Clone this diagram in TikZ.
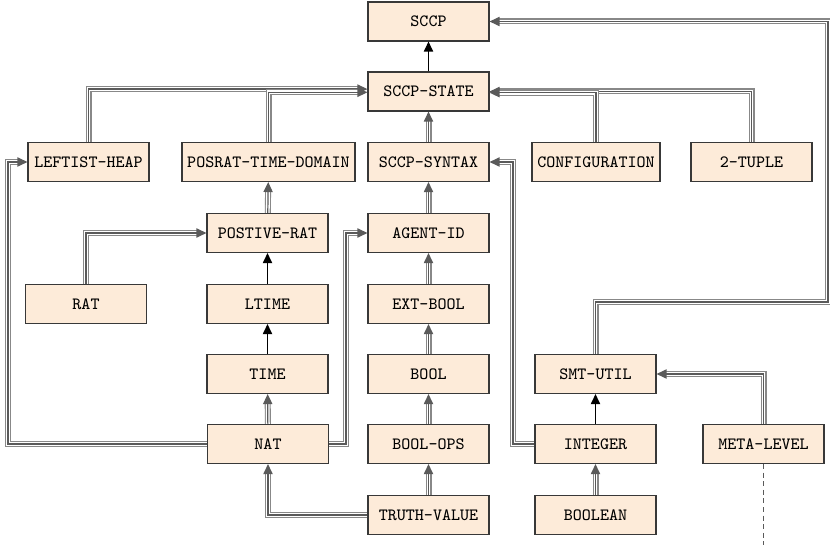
\documentclass[tikz,border=0pt]{standalone}
\usetikzlibrary{arrows.meta}
\definecolor{boxfill}{HTML}{FDEBD9}
\definecolor{boxline}{HTML}{383838}
\definecolor{outerline}{HTML}{888888}
\definecolor{tipgray}{HTML}{5A5A5A}
\begin{document}
\begin{tikzpicture}[x=0.5pt,y=-0.5pt,
  mod/.style={draw=boxline, fill=boxfill, line width=0.55pt,
    minimum width=60.5pt, minimum height=19.5pt, inner sep=0pt,
    font=\fontsize{8.6}{10}\selectfont\ttfamily},
  imp/.style={draw=outerline, line width=3pt, shorten >=4pt,
    postaction={draw=white, line width=1.9pt, shorten >=4pt},
    postaction={draw=tipgray, line width=0.6pt, shorten >=0pt,
      -{Triangle[length=5pt,width=4.6pt]}}},
  uses/.style={draw=black, line width=0.6pt,
    -{Triangle[length=5pt,width=4.6pt]}},
  meta/.style={draw=tipgray, line width=0.8pt, dash pattern=on 2.5pt off 1.8pt}]
\useasboundingbox (0,0) rectangle (830,545);

% modules
\node[mod] (sccp)  at (428.5,21.5) {SCCP};
\node[mod] (state) at (428.5,91.5) {SCCP-STATE};
\node[mod] (heap)  at (88.5,162)   {LEFTIST-HEAP};
\node[mod, minimum width=86.5pt] (ptd) at (268.5,162) {POSRAT-TIME-DOMAIN};
\node[mod] (syn)   at (428.5,162)  {SCCP-SYNTAX};
\node[mod, minimum width=64pt] (conf) at (596,162) {CONFIGURATION};
\node[mod] (tup)   at (751.5,162)  {2-TUPLE};
\node[mod] (prat)  at (267.5,233)  {POSTIVE-RAT};
\node[mod] (aid)   at (428.5,233)  {AGENT-ID};
\node[mod] (rat)   at (86,304)     {RAT};
\node[mod] (ltime) at (267.5,304)  {LTIME};
\node[mod] (ebool) at (428.5,304)  {EXT-BOOL};
\node[mod] (time)  at (267.5,374)  {TIME};
\node[mod] (bool)  at (428.5,374)  {BOOL};
\node[mod] (smt)   at (595.5,374)  {SMT-UTIL};
\node[mod] (nat)   at (268,444)    {NAT};
\node[mod] (bops)  at (428.5,444)  {BOOL-OPS};
\node[mod] (int)   at (595.5,444)  {INTEGER};
\node[mod] (mlev)  at (763.5,444)  {META-LEVEL};
\node[mod] (tv)    at (428.5,515)  {TRUTH-VALUE};
\node[mod] (boolean) at (595.5,515) {BOOLEAN};

% bend points of the routed imports
\coordinate (smtBend) at (828,302);
\coordinate (intBend) at (513,0);
\coordinate (natLeft) at (8,0);
\coordinate (natRight) at (346,0);
\coordinate (mlevEnd) at (763.5,545);

% imports
\draw[imp] (heap.north) |- ([yshift=1.2pt]state.west);
\draw[imp] (ptd.north) |- ([yshift=-0.4pt]state.west);
\draw[imp] (syn) -- (state);
\draw[imp] (tup.north) |- (state.east);
\draw[imp] (conf.north) |- ([yshift=-0.6pt]state.east);
\draw[imp] (smt.north) |- (smtBend) |- (sccp.east);
\draw[imp] (prat) -- (ptd);
\draw[imp] (aid) -- (syn);
\draw[imp] (ebool) -- (aid);
\draw[imp] (bool) -- (ebool);
\draw[imp] (bops) -- (bool);
\draw[imp] (tv) -- (bops);
\draw[imp] (rat.north) |- (prat.west);
\draw[imp] (nat) -- (time);
\draw[imp] (nat.west) -- (nat.west -| natLeft) |- (heap.west);
\draw[imp] (nat.east) -- (nat.east -| natRight) |- (aid.west);
\draw[imp] (tv.west) -| (nat.south);
\draw[imp] (int.west) -- (int.west -| intBend) |- (syn.east);
\draw[imp] (boolean) -- (int);
\draw[imp] (mlev.north) |- (smt.east);

% direct uses
\draw[uses] (state) -- (sccp);
\draw[uses] (ltime) -- (prat);
\draw[uses] (time) -- (ltime);
\draw[uses] (int) -- (smt);

% open continuation
\draw[meta] (mlev.south) -- (mlevEnd);
\end{tikzpicture}
\end{document}
